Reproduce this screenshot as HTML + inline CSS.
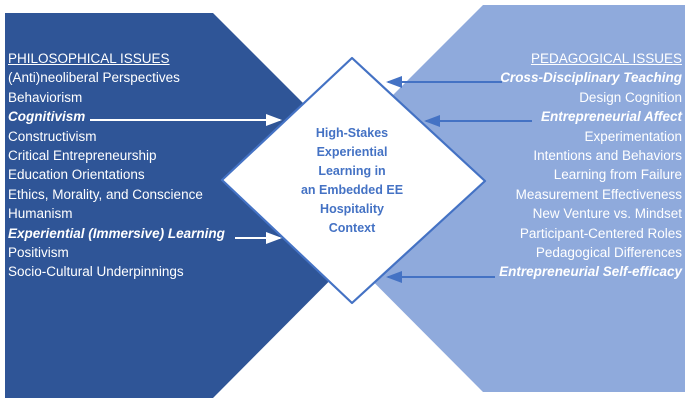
<!DOCTYPE html>
<html><head><style>
body{margin:0;width:690px;height:405px;background:#fff;overflow:hidden;position:relative;font-family:"Liberation Sans",sans-serif}
.l{position:absolute;left:8px;color:#fff;font-size:13.5px;line-height:19.4px;top:49px}
.r{position:absolute;right:8px;color:#fff;font-size:13.5px;line-height:19.4px;top:49px;text-align:right}
.c{position:absolute;left:262px;width:180px;top:124px;text-align:center;color:#4472c4;font-weight:bold;font-size:12.5px;line-height:19px}
u{text-decoration:underline}
b{font-style:italic}
</style></head><body>
<svg width="690" height="405" style="position:absolute;left:0;top:0">
<defs>
<marker id="aw" markerWidth="8" markerHeight="8" refX="7" refY="4" orient="auto"><path d="M0,1 L8,4 L0,7z" fill="#fff"/></marker>
<marker id="ab" markerWidth="8" markerHeight="8" refX="7" refY="4" orient="auto"><path d="M0,1 L8,4 L0,7z" fill="#4472c4"/></marker>
</defs>
<polygon points="5,13 213,13 405,205 213,398 5,398" fill="#2f5597"/>
<polygon points="483,5 685,5 685,392 483,392 290,198" fill="#8faadc"/>
<polygon points="352,58 485,181 352,303 222,180" fill="#fff" stroke="#4472c4" stroke-width="2.2" stroke-linejoin="round"/>
<line x1="90" y1="120" x2="280" y2="120" stroke="#fff" stroke-width="2" marker-end="url(#aw)"/>
<line x1="235" y1="238" x2="280" y2="238" stroke="#fff" stroke-width="2" marker-end="url(#aw)"/>
<line x1="502" y1="82" x2="388" y2="82" stroke="#4472c4" stroke-width="2" marker-end="url(#ab)"/>
<line x1="532" y1="121" x2="426" y2="121" stroke="#4472c4" stroke-width="2" marker-end="url(#ab)"/>
<line x1="495" y1="277" x2="388" y2="277" stroke="#4472c4" stroke-width="2" marker-end="url(#ab)"/>
</svg>
<div class="l"><u>PHILOSOPHICAL ISSUES</u><br>(Anti)neoliberal Perspectives<br>Behaviorism<br><b><strong>Cognitivism</strong></b><br>Constructivism<br>Critical Entrepreneurship<br>Education Orientations<br>Ethics, Morality, and Conscience<br>Humanism<br><b><strong>Experiential (Immersive) Learning</strong></b><br>Positivism<br>Socio-Cultural Underpinnings</div>
<div class="r"><u>PEDAGOGICAL ISSUES</u><br><b><strong>Cross-Disciplinary Teaching</strong></b><br>Design Cognition<br><b><strong>Entrepreneurial Affect</strong></b><br>Experimentation<br>Intentions and Behaviors<br>Learning from Failure<br>Measurement Effectiveness<br>New Venture vs. Mindset<br>Participant-Centered Roles<br>Pedagogical Differences<br><b><strong>Entrepreneurial Self-efficacy</strong></b></div>
<div class="c">High-Stakes<br>Experiential<br>Learning in<br>an Embedded EE<br>Hospitality<br>Context</div>
</body></html>
